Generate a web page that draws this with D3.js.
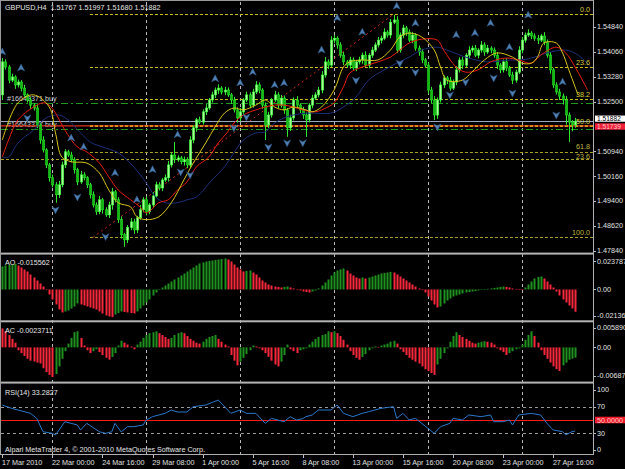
<!DOCTYPE html>
<html><head><meta charset="utf-8">
<script src="https://d3js.org/d3.v7.min.js"></script>
<style>
body{margin:0;background:#000;}
svg{display:block}
text{font-family:"Liberation Sans",Arial,sans-serif;font-size:7.2px;}
</style></head>
<body><svg id="c" width="625" height="469"></svg>
<script>
// ---------------- DATA ----------------
const symbolHeader = "GBPUSD,H4  1.51767 1.51997 1.51680 1.51882";
const firstOpen = 1.5271;
const closes = [
1.5374,1.5358,1.5317,1.5327,1.5302,1.5311,1.5292,1.5271,1.5255,1.5239,
1.5230,1.5177,1.5130,1.5099,1.5052,1.5012,1.4990,1.4959,1.4990,1.5052,
1.5093,1.5083,1.5068,1.5037,1.4999,1.5021,1.5012,1.4990,1.4959,1.4927,
1.4906,1.4943,1.4912,1.4896,1.4927,1.4968,1.4943,1.4881,1.4834,1.4818,
1.4856,1.4874,1.4849,1.4887,1.4912,1.4943,1.4906,1.4927,1.4955,1.4990,
1.4980,1.5005,1.5012,1.5052,1.5083,1.5068,1.5074,1.5062,1.5068,1.5052,
1.5130,1.5168,1.5193,1.5186,1.5218,1.5230,1.5255,1.5271,1.5286,1.5292,
1.5280,1.5286,1.5271,1.5255,1.5224,1.5199,1.5218,1.5255,1.5271,1.5239,
1.5280,1.5302,1.5286,1.5239,1.5177,1.5208,1.5255,1.5271,1.5239,1.5261,
1.5224,1.5168,1.5199,1.5255,1.5239,1.5224,1.5208,1.5193,1.5239,1.5261,
1.5271,1.5286,1.5333,1.5374,1.5364,1.5442,1.5448,1.5427,1.5395,1.5374,
1.5364,1.5380,1.5355,1.5374,1.5380,1.5395,1.5364,1.5395,1.5411,1.5427,
1.5442,1.5448,1.5467,1.5458,1.5498,1.5505,1.5411,1.5458,1.5480,1.5467,
1.5442,1.5458,1.5417,1.5405,1.5380,1.5364,1.5286,1.5255,1.5208,1.5255,
1.5302,1.5324,1.5317,1.5292,1.5311,1.5349,1.5380,1.5364,1.5395,1.5411,
1.5417,1.5395,1.5411,1.5427,1.5405,1.5417,1.5411,1.5395,1.5364,1.5349,
1.5374,1.5355,1.5333,1.5317,1.5342,1.5411,1.5442,1.5458,1.5464,1.5455,
1.5448,1.5442,1.5455,1.5436,1.5395,1.5349,1.5302,1.5280,1.5267,1.5255,
1.5208,1.5186,1.5177,1.51882];
// wick lengths in pips (0.0001)
const upWick = [
12,8,6,10,5,8,6,10,5,8, 6,10,8,12,5,6,10,8,12,10, 8,6,10,8,6,12,8,5,6,10,
8,12,6,8,10,12,6,8,10,6, 8,12,10,6,15,8,10,6,12,10, 8,6,10,12,8,40,8,6,10,8,
12,8,6,10,8,12,6,10,8,12, 6,10,8,6,10,8,12,6,10,8, 10,12,8,6,8,10,6,12,8,10,
8,6,10,8,12,6,10,8,6,10, 8,10,12,15,8,12,10,6,8,10, 6,10,8,6,10,8,12,6,10,8,
10,8,12,6,10,16,12,8,10,6, 8,10,6,8,10,6,8,10,12,8, 10,8,6,10,8,12,8,10,6,12,
8,10,6,12,8,10,6,8,10,6, 8,12,6,10,8,12,10,8,12,6, 8,10,6,12,8,10,6,8,10,8,
12,8,6,11];
const downWick = [
16,8,10,6,12,8,10,6,8,12, 8,10,12,8,10,12,8,25,10,8, 10,6,8,12,10,6,8,10,12,8,
10,8,12,6,10,15,8,10,12,22, 10,8,12,10,6,8,12,8,10,6, 8,10,6,12,8,10,6,8,12,10,
8,10,12,6,8,10,6,8,10,12, 8,10,6,12,8,15,10,8,6,10, 8,6,10,12,47,10,8,6,10,8,
12,28,10,8,6,10,12,53,8,10, 6,8,10,8,12,6,10,12,8,10, 8,12,6,10,8,12,6,10,8,6,
8,10,6,8,10,6,9,8,10,12, 6,10,8,12,10,8,12,10,16,12, 8,10,12,8,6,10,8,12,6,10,
8,6,10,8,12,6,10,8,12,10, 8,10,6,12,8,6,10,8,6,10, 8,12,6,10,8,12,10,8,12,14,
30,62,20,9];
// moving averages [bar, price]
const maYellow = [[0,1.5130],[5,1.5246],[10,1.5271],[15,1.5233],[17,1.5152],[19,1.5077],[22,1.5062],[27,1.5058],[31,1.5027],[34,1.4974],[37,1.4934],[41,1.4921],[43,1.4890],[46,1.4881],[50,1.4890],[54,1.4934],[58,1.5005],[61,1.5058],[65,1.5121],[68,1.5171],[71,1.5214],[74,1.5230],[77,1.5224],[81,1.5239],[84,1.5255],[87,1.5233],[90,1.5224],[93,1.5233],[97,1.5224],[99,1.5218],[102,1.5233],[106,1.5286],[109,1.5358],[111,1.5374],[115,1.5380],[120,1.5380],[124,1.5411],[127,1.5452],[130,1.5464],[134,1.5452],[138,1.5411],[140,1.5358],[142,1.5317],[147,1.5317],[150,1.5342],[154,1.5380],[158,1.5402],[163,1.5389],[166,1.5370],[169,1.5370],[171,1.5389],[173,1.5433],[177,1.5433],[179,1.5402],[181,1.5349],[183,1.5296],[184,1.5270]];
const maRed = [[0,1.5077],[2,1.5130],[5,1.5193],[10,1.5233],[13,1.5246],[15,1.5239],[17,1.5214],[20,1.5161],[24,1.5108],[27,1.5093],[31,1.5058],[34,1.5015],[37,1.4974],[41,1.4943],[44,1.4921],[46,1.4902],[50,1.4934],[53,1.4943],[56,1.4974],[59,1.4999],[62,1.5046],[66,1.5077],[69,1.5121],[72,1.5155],[74,1.5183],[77,1.5208],[81,1.5224],[84,1.5233],[87,1.5239],[90,1.5239],[93,1.5233],[96,1.5224],[100,1.5218],[104,1.5233],[106,1.5246],[109,1.5296],[111,1.5339],[115,1.5358],[120,1.5374],[124,1.5389],[127,1.5411],[130,1.5433],[134,1.5445],[139,1.5442],[141,1.5411],[145,1.5358],[148,1.5342],[152,1.5349],[156,1.5374],[161,1.5386],[165,1.5380],[169,1.5370],[172,1.5395],[177,1.5420],[180,1.5402],[183,1.5358],[187,1.5286]];
const maBlue = [[0,1.5077],[2,1.5077],[5,1.5121],[10,1.5161],[14,1.5199],[18,1.5208],[21,1.5193],[25,1.5152],[28,1.5124],[32,1.5108],[37,1.5090],[42,1.5046],[46,1.4996],[49,1.4952],[52,1.4934],[56,1.4934],[59,1.4943],[62,1.4952],[67,1.5005],[71,1.5046],[74,1.5090],[77,1.5130],[81,1.5152],[84,1.5155],[87,1.5183],[90,1.5199],[93,1.5208],[98,1.5214],[105,1.5214],[109,1.5233],[113,1.5264],[117,1.5317],[122,1.5349],[126,1.5370],[130,1.5389],[134,1.5411],[139,1.5420],[142,1.5411],[149,1.5386],[155,1.5374],[162,1.5380],[166,1.5380],[170,1.5389],[174,1.5402],[180,1.5411],[184,1.5395],[188,1.5358]];
// fractals [bar, price]
const fractalsUp = [[0,1.5405],[6,1.5355],[22,1.5136],[26,1.5108],[36,1.5027],[43,1.4943],[48,1.5037],[56,1.5146],[68,1.5321],[76,1.5308],[80,1.5342],[87,1.5302],[90,1.5308],[102,1.5411],[107,1.5511],[115,1.5467],[126,1.5548],[132,1.5495],[145,1.5458],[151,1.5464],[156,1.5495],[162,1.5420],[168,1.5520],[179,1.5311]];
const fractalsDown = [[8,1.5199],[17,1.4912],[24,1.4952],[33,1.4828],[57,1.5030],[60,1.5021],[74,1.5168],[78,1.5202],[85,1.5108],[91,1.5121],[96,1.5121],[113,1.5317],[127,1.5370],[132,1.5342],[139,1.5171],[143,1.5271],[148,1.5311],[157,1.5324],[163,1.5277],[177,1.5208]];
// fibonacci
const fibHigh = 1.5523, fibLow = 1.4826, fibStartBar = 29, fibEndBar = 125, fibLineStartBar = 28;
const fibLevels = [0, 23.6, 38.2, 50.0, 61.8, 100.0];
const fibLevelLabels = ["0.0","23.6","38.2","50.0","61.8","100.0"];
const fib2Price = 1.5071, fib2Label = "23.6";
// order & price lines
const orderPrices = [1.5246, 1.5164];
const orderLabels = ["#16643371 buy", "#16643377 buy"];
const hLinePrice = 1.51739, hLineLabel = "1.51739";
const bidPrice = 1.51882, bidLabel = "1.51882";
// price axis ticks
const priceTicks = [1.54840,1.54060,1.53280,1.52500,1.50940,1.50160,1.49400,1.48620,1.47840];
const priceTickLabels = ["1.54840","1.54060","1.53280","1.52500","1.50940","1.50160","1.49400","1.48620","1.47840"];
// AO in units of 0.0001
const aoValues = [
161,168,172,175,179,168,154,140,126,105, 84,63,42,21,0,-35,-70,-105,-140,-161,
-154,-147,-133,-119,-98,-105,-112,-119,-126,-133, -140,-154,-168,-182,-189,-193,-175,-165,-154,-158,
-161,-165,-168,-154,-133,-112,-91,-70,-42,-21, 0,14,28,42,56,70,84,98,112,126,
140,154,168,182,189,196,200,203,207,210, 214,217,210,196,175,154,140,126,130,133,
119,105,84,63,49,35,28,21,18,14, 18,21,14,7,0,-7,-14,-18,-21,-14,
-7,7,28,49,70,98,119,133,140,147, 133,112,98,84,77,84,77,84,91,98,
105,112,116,119,123,119,105,91,77,63, 49,35,21,7,-4,-21,-49,-77,-105,-126,
-119,-98,-77,-63,-49,-42,-35,-28,-21,-18, -14,-11,-7,-4,0,4,7,11,14,18,
21,18,14,7,4,0,-4,14,35,56, 77,88,91,77,56,35,14,-14,-42,-70,
-91,-112,-133,-156];
const aoTicks = [0.023787, 0, -0.021365];
const aoTickLabels = ["0.023787","0.00","-0.021365"];
// AC in units of 0.00001
const acValues = [
440,374,286,198,110,-66,-132,-198,-264,-308, -330,-352,-374,-484,-572,-638,-687,-616,-440,-264,
-88,88,220,352,374,220,44,-66,-132,-88, -44,-110,-176,-242,-286,-220,-132,44,154,110,
66,22,-44,66,132,220,286,330,352,374, 330,286,242,198,220,286,330,352,330,264,
198,154,110,88,132,198,242,264,286,198, 132,66,22,-176,-308,-418,-330,-242,-154,-66,
44,22,-22,-66,-132,-220,-308,-396,-440,-330, -176,66,-44,-88,-132,-66,-44,-22,66,132,
198,242,286,308,374,352,374,330,264,176, 66,-88,-176,-242,-286,-220,-154,-66,-22,22,
11,44,66,88,132,154,88,-44,-110,-176, -242,-286,-330,-374,-440,-506,-550,-594,-638,-396,
-264,-132,-22,132,264,352,286,242,198,154, 110,88,110,132,143,132,110,66,-22,-66,
-110,-176,-132,-88,-44,-22,66,176,286,374, 264,110,-66,-176,-264,-352,-440,-506,-550,-418,
-352,-286,-260,-237];
const acTicks = [0.005890, 0, -0.00687];
const acTickLabels = ["0.005890","0.00","-0.00687"];
// RSI [bar, value]
const rsiPoints = [[0,72.5],[3,67.5],[9,60],[11,52.5],[13,32.4],[16,30],[17,27.5],[20,47.4],[24,42.5],[25,35],[27,45],[31,32.4],[33,30],[35,32.4],[36,45],[38,32],[40,40],[42,40],[45,42.5],[46,50],[48,55],[52,60],[54,65],[56,62],[59,62],[61,70],[65,72.5],[69,80],[73,60],[76,65],[78,60],[81,60],[84,45],[86,52.5],[90,47.4],[92,55],[94,50],[96,52],[97,55],[99,57.5],[101,65],[105,65],[107,72.5],[109,60],[112,55],[115,60],[117,62.5],[121,67.5],[125,70],[126,52.5],[128,60],[130,50],[132,52.5],[136,37.5],[138,30],[140,40],[143,45],[144,52.5],[147,50],[149,57.5],[153,55],[156,57.5],[157,47.5],[160,47.5],[162,50],[163,42.5],[165,57.5],[169,60],[172,57.5],[174,45],[176,35],[179,32.5],[180,27.5],[182,32.5],[183,33.28]];
const rsiTicks = [100, 70, 30, 0];
const rsiLevels = [70, 30];
const rsiMid = 50, rsiMidLabel = "50.0000";
// time axis
const timeTickBars = [0,16,32,48,64,80,96,112,128,144,160,176];
const timeTickLabels = ["17 Mar 2010","22 Mar 00:00","24 Mar 16:00","29 Mar 08:00","1 Apr 00:00","5 Apr 16:00","8 Apr 08:00","13 Apr 00:00","15 Apr 16:00","20 Apr 08:00","23 Apr 00:00","27 Apr 16:00"];
const gridBars = [16,46,76,106,136,166];
const aoTitle = "AO -0.015562", acTitle = "AC -0.0023711", rsiTitle = "RSI(14) 33.2827";
const copyright = "Alpari MetaTrader 4, © 2001-2010 MetaQuotes Software Corp.";

// ---------------- LAYOUT ----------------
const W = 625, H = 469, R = 593;
const P = {main:[2,253], ao:[255.5,320], ac:[322,380], rsi:[384,454]};
const svg = d3.select('#c');
svg.append('rect').attr('width',W).attr('height',H).attr('fill','#000');

const x = d3.scaleLinear().domain([0,183]).range([2.3, 2.3+183*3.13]);
const y = d3.scaleLinear().domain([1.4784,1.5484]).range([250.7,26.7]);
const yAO = d3.scaleLinear().domain([-0.021365,0.023787]).range([320,255.5]);
const yAC = d3.scaleLinear().domain([-0.00687,0.00589]).range([377,322]);
const yRSI = d3.scaleLinear().domain([0,100]).range([453.3,386.7]);

const defs = svg.append('defs');
Object.entries(P).forEach(([k,[t,b]])=>{
  defs.append('clipPath').attr('id','clip-'+k).append('rect')
    .attr('x',1).attr('y',t).attr('width',R-1).attr('height',b-t);
});

// vertical grid
const grid = svg.append('g');
gridBars.forEach(b=>{
  grid.append('line').attr('x1',Math.round(x(b))+0.5).attr('x2',Math.round(x(b))+0.5)
    .attr('y1',2).attr('y2',454).attr('stroke','#b8b8b8').attr('stroke-dasharray','3,3');
});

// ---------- main panel ----------
const gm = svg.append('g').attr('clip-path','url(#clip-main)');

const fibColor = '#c8be1e';
fibLevels.forEach((lv,i)=>{
  const p = fibHigh - (fibHigh-fibLow)*lv/100;
  const yy = Math.round(y(p))+0.5;
  gm.append('line').attr('x1',x(fibLineStartBar)).attr('x2',R).attr('y1',yy).attr('y2',yy)
    .attr('stroke', lv>55 ? '#a8a22a' : fibColor).attr('stroke-dasharray','3,2');
  svg.append('text').attr('x',590).attr('y',y(p)-(lv===61.8?3:2)).attr('text-anchor','end')
    .attr('fill', lv>55 ? '#bdb640' : '#d8cf3a').text(fibLevelLabels[i]);
});
{
  const yy = Math.round(y(fib2Price))+0.5;
  gm.append('line').attr('x1',1).attr('x2',R).attr('y1',yy).attr('y2',yy)
    .attr('stroke','#a8a22a').attr('stroke-dasharray','3,2');
  svg.append('text').attr('x',590).attr('y',y(fib2Price)-0.2).attr('text-anchor','end')
    .attr('fill','#bdb640').text(fib2Label);
}
gm.append('line').attr('x1',x(fibStartBar)).attr('y1',y(fibLow)).attr('x2',x(fibEndBar)).attr('y2',y(fibHigh))
  .attr('stroke','#d42a1a').attr('stroke-dasharray','2,3');

orderPrices.forEach((p,i)=>{
  const yy = Math.round(y(p))+0.5;
  gm.append('line').attr('x1',1).attr('x2',R).attr('y1',yy).attr('y2',yy)
    .attr('stroke','#1f9a1f').attr('stroke-dasharray','7,3,2,3');
  gm.append('text').attr('x',7).attr('y',y(p)-2).attr('fill','#d0d0d0').text(orderLabels[i]);
});
gm.append('line').attr('x1',1).attr('x2',R).attr('y1',Math.round(y(bidPrice))+0.5).attr('y2',Math.round(y(bidPrice))+0.5)
  .attr('stroke','#9aa8bc');
gm.append('line').attr('x1',1).attr('x2',R).attr('y1',y(hLinePrice)).attr('y2',y(hLinePrice))
  .attr('stroke','#e0301a').attr('stroke-width',1.3);
gm.append('line').attr('x1',x(fibLineStartBar)).attr('x2',R).attr('y1',y(hLinePrice)).attr('y2',y(hLinePrice))
  .attr('stroke','#f0c020').attr('stroke-dasharray','3,2');

// candles
const candles = closes.map((c,i)=>{
  const o = i===0 ? firstOpen : closes[i-1];
  return {i, o, c, h: Math.max(o,c)+upWick[i]*1e-4, l: Math.min(o,c)-downWick[i]*1e-4};
});
const gc = gm.append('g');
gc.selectAll('line.w').data(candles).join('line').attr('class','w')
  .attr('x1',d=>Math.round(x(d.i))+0.5).attr('x2',d=>Math.round(x(d.i))+0.5)
  .attr('y1',d=>y(d.h)).attr('y2',d=>y(d.l)).attr('stroke','#2fe82f');
gc.selectAll('rect').data(candles).join('rect')
  .attr('x',d=>Math.round(x(d.i))-0.5).attr('width',2.2)
  .attr('y',d=>y(Math.max(d.o,d.c)))
  .attr('height',d=>Math.max(1,Math.abs(y(d.o)-y(d.c))))
  .attr('fill',d=>d.c>=d.o ? '#a8ff98' : '#14b814')
  .attr('stroke',d=>d.c>=d.o ? '#3cff3c' : '#22d822').attr('stroke-width',0.6);

// MAs
const maLine = d3.line().x(d=>x(d[0])).y(d=>y(d[1])).curve(d3.curveCatmullRom.alpha(0.5));
gm.append('path').attr('d',maLine(maBlue)).attr('fill','none').attr('stroke','#1c2f7a').attr('stroke-width',1);
gm.append('path').attr('d',maLine(maRed)).attr('fill','none').attr('stroke','#e81c10').attr('stroke-width',1);
gm.append('path').attr('d',maLine(maYellow)).attr('fill','none').attr('stroke','#d8c41c').attr('stroke-width',1);

// fractals
const upArrow = 'M0,-4 L3.6,3 L0,1.2 L-3.6,3 Z';
const downArrow = 'M0,4 L3.6,-3 L0,-1.2 L-3.6,-3 Z';
gm.selectAll('path.fu').data(fractalsUp).join('path').attr('class','fu')
  .attr('d',upArrow).attr('transform',d=>`translate(${x(d[0])},${y(d[1])})`)
  .attr('fill','#4f7fb3').attr('stroke','#2c557f').attr('stroke-width',0.5);
gm.selectAll('path.fd').data(fractalsDown).join('path').attr('class','fd')
  .attr('d',downArrow).attr('transform',d=>`translate(${x(d[0])},${y(d[1])})`)
  .attr('fill','#4f7fb3').attr('stroke','#2c557f').attr('stroke-width',0.5);

svg.append('text').attr('x',5).attr('y',10).attr('fill','#e6e6e6').attr('xml:space','preserve').text(symbolHeader);

// price axis labels
const ax = svg.append('g');
priceTicks.forEach((p,i)=>{
  ax.append('line').attr('x1',R).attr('x2',R+3).attr('y1',Math.round(y(p))+0.5).attr('y2',Math.round(y(p))+0.5).attr('stroke','#bbb');
  ax.append('text').attr('x',597).attr('y',y(p)).attr('dy','0.35em').attr('fill','#e0e0e0').text(priceTickLabels[i]);
});
ax.append('rect').attr('x',595).attr('y',y(bidPrice)-5.8).attr('width',30).attr('height',6.2).attr('fill','#fff');
ax.append('text').attr('x',597).attr('y',y(bidPrice)-2.7).attr('dy','0.35em').attr('fill','#000').style('font-size','6.6px').text(bidLabel);
ax.append('rect').attr('x',595).attr('y',y(hLinePrice)-2.6).attr('width',30).attr('height',6.4).attr('fill','#f0203a');
ax.append('text').attr('x',597).attr('y',y(hLinePrice)+0.8).attr('dy','0.35em').attr('fill','#ffc8c8').style('font-size','6.6px').text(hLineLabel);

// ---------- AO ----------
const clampLab = (v,t,b)=>Math.min(Math.max(v,t+5.5),b-4.5);
const ga = svg.append('g').attr('clip-path','url(#clip-ao)');
ga.selectAll('rect').data(aoValues).join('rect')
  .attr('x',(d,i)=>Math.round(x(i))-0.5).attr('width',2)
  .attr('y',d=>Math.min(yAO(d*1e-4),yAO(0)))
  .attr('height',d=>Math.max(0.6,Math.abs(yAO(d*1e-4)-yAO(0))))
  .attr('fill',(d,i)=> (i===0 || d>aoValues[i-1]) ? '#1f8f1f' : '#f8283c');
svg.append('text').attr('x',5).attr('y',265).attr('fill','#e6e6e6').text(aoTitle);
aoTicks.forEach((v,i)=>{
  const yy = clampLab(yAO(v),P.ao[0],P.ao[1]);
  ax.append('line').attr('x1',R).attr('x2',R+3).attr('y1',Math.round(yy)+0.5).attr('y2',Math.round(yy)+0.5).attr('stroke','#bbb');
  ax.append('text').attr('x',597).attr('y',yy).attr('dy','0.35em').attr('fill','#e0e0e0').text(aoTickLabels[i]);
});

// ---------- AC ----------
const gac = svg.append('g').attr('clip-path','url(#clip-ac)');
gac.selectAll('rect').data(acValues).join('rect')
  .attr('x',(d,i)=>Math.round(x(i))-0.5).attr('width',2)
  .attr('y',d=>Math.min(yAC(d*1e-5),yAC(0)))
  .attr('height',d=>Math.max(0.6,Math.abs(yAC(d*1e-5)-yAC(0))))
  .attr('fill',(d,i)=> (i>0 && d>acValues[i-1]) ? '#1f8f1f' : '#f8283c');
svg.append('text').attr('x',5).attr('y',332.5).attr('fill','#e6e6e6').text(acTitle);
acTicks.forEach((v,i)=>{
  const yy = clampLab(yAC(v),P.ac[0],P.ac[1]);
  ax.append('line').attr('x1',R).attr('x2',R+3).attr('y1',Math.round(yy)+0.5).attr('y2',Math.round(yy)+0.5).attr('stroke','#bbb');
  ax.append('text').attr('x',597).attr('y',yy).attr('dy','0.35em').attr('fill','#e0e0e0').text(acTickLabels[i]);
});

// ---------- RSI ----------
const gr = svg.append('g').attr('clip-path','url(#clip-rsi)');
rsiLevels.forEach(v=>{
  gr.append('line').attr('x1',1).attr('x2',R).attr('y1',Math.round(yRSI(v))+0.5).attr('y2',Math.round(yRSI(v))+0.5)
    .attr('stroke','#9a9a9a').attr('stroke-dasharray','3,3');
});
gr.append('line').attr('x1',1).attr('x2',R).attr('y1',Math.round(yRSI(rsiMid))+0.5).attr('y2',Math.round(yRSI(rsiMid))+0.5)
  .attr('stroke','#ff1a1a').attr('stroke-width',1.2);
gr.append('path').attr('d',d3.line().x(d=>x(d[0])).y(d=>yRSI(d[1]))(rsiPoints))
  .attr('fill','none').attr('stroke','#2a78cc').attr('stroke-width',1);
svg.append('text').attr('x',5).attr('y',395).attr('fill','#e6e6e6').text(rsiTitle);
svg.append('text').attr('x',5).attr('y',452).attr('fill','#e6e6e6').text(copyright);
rsiTicks.forEach(v=>{
  const yy = clampLab(yRSI(v),P.rsi[0],P.rsi[1]);
  ax.append('line').attr('x1',R).attr('x2',R+3).attr('y1',Math.round(yy)+0.5).attr('y2',Math.round(yy)+0.5).attr('stroke','#bbb');
  ax.append('text').attr('x',597).attr('y',yy).attr('dy','0.35em').attr('fill','#e0e0e0').text(String(v));
});
ax.append('rect').attr('x',595).attr('y',yRSI(rsiMid)-3.3).attr('width',30).attr('height',6.6).attr('fill','#ee1c2a');
ax.append('text').attr('x',597).attr('y',yRSI(rsiMid)).attr('dy','0.35em').attr('fill','#ffc8c8').text(rsiMidLabel);

// ---------- frame & separators ----------
const fr = svg.append('g');
[252.6,320.3,381.6].forEach(yy=>{
  fr.append('rect').attr('x',1).attr('y',yy).attr('width',R-1).attr('height',2).attr('fill','#b4b4b4');
});
fr.append('line').attr('x1',0.5).attr('x2',0.5).attr('y1',0).attr('y2',455).attr('stroke','#9a9a9a');
fr.append('line').attr('x1',0).attr('x2',R).attr('y1',0.5).attr('y2',0.5).attr('stroke','#9a9a9a');
fr.append('line').attr('x1',R+0.5).attr('x2',R+0.5).attr('y1',0).attr('y2',455).attr('stroke','#b0b0b0');
fr.append('line').attr('x1',0).attr('x2',R+1).attr('y1',454.5).attr('y2',454.5).attr('stroke','#b0b0b0');

timeTickBars.forEach((b,i)=>{
  const xx = Math.round(x(b))+0.5;
  fr.append('line').attr('x1',xx).attr('x2',xx).attr('y1',455).attr('y2',458).attr('stroke','#bbb');
  fr.append('text').attr('x',x(b)-0.3).attr('y',464.5).attr('fill','#e0e0e0').text(timeTickLabels[i]);
});
</script></body></html>
